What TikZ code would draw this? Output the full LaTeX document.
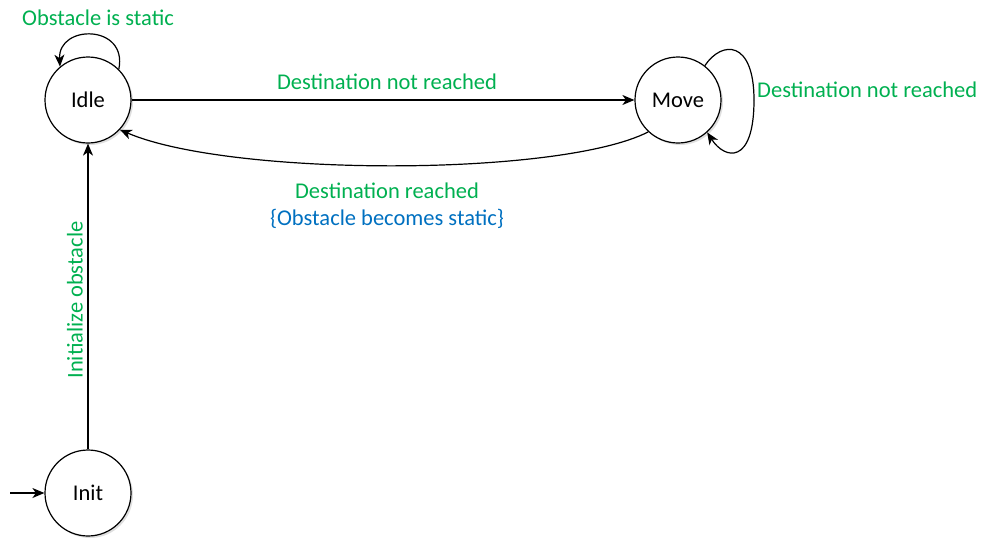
\documentclass[tikz,border=0pt]{standalone}
\usepackage{fontspec}
\setmainfont{Carlito}
\usetikzlibrary{arrows.meta,shadows}
\definecolor{lblgreen}{RGB}{0,176,80}
\definecolor{lblblue}{RGB}{0,112,192}
\begin{document}
\begin{tikzpicture}[x=1pt,y=-1pt,
  state/.style={circle,draw,line width=1.2pt,fill=white,minimum size=86pt,inner sep=0pt,
    font=\fontsize{22.5}{26}\selectfont,
    drop shadow={opacity=0.25,shadow xshift=2pt,shadow yshift=-2pt}},
  lbl/.style={inner sep=0pt,font=\fontsize{22.5}{26}\selectfont,text=lblgreen},
  act/.style={inner sep=0pt,font=\fontsize{22.5}{26}\selectfont,text=lblblue},
  edge/.style={line width=1.2pt,-{Stealth[length=12pt,width=10pt,inset=3.5pt]}}]
\useasboundingbox (0,0) rectangle (982,539);
\node[state] (idle) at (88,100) {Idle};
\node[state] (move) at (678,100) {Move};
\node[state] (init) at (88,493) {Init};
\coordinate (start) at (10,493);
\coordinate (mr) at (754,100);
% edges
\draw[edge] (start) -- (init);
\draw[edge] (init) -- (idle);
\draw[edge] (idle) -- (move);
\draw[edge] (move.227) .. controls (560,177) and (230,177) .. (idle.-43);
\draw[edge] (idle.45) .. controls (128,24) and (58,24) .. (idle.130);
\draw[line width=1.2pt] (move.52) .. controls (722,40) and (754,40) .. (mr);
\draw[edge] (mr) .. controls (754,165) and (725,160) .. (move.-48);
% labels
\node[lbl] (l1) at (98,18) {Obstacle is static};
\node[lbl] (l2) at (387,82) {Destination not reached};
\node[lbl,anchor=west] (l3) at (757,90) {Destination not reached};
\node[lbl] (l4) at (387,191) {Destination reached};
\node[act] (l5) at (387,219) {\{Obstacle becomes static\}};
\node[lbl,rotate=90] (l6) at (75,300) {Initialize obstacle};
\end{tikzpicture}
\end{document}
